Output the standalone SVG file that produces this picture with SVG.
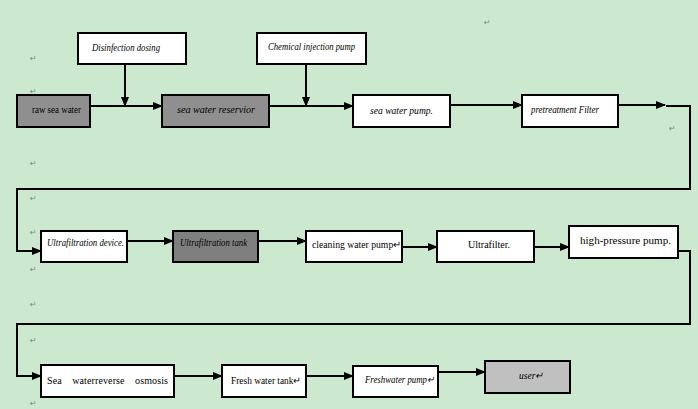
<svg xmlns="http://www.w3.org/2000/svg" width="698" height="409" viewBox="0 0 698 409">
<defs>
<marker id="ah" markerWidth="10" markerHeight="8" refX="9" refY="4" orient="auto" markerUnits="userSpaceOnUse">
<path d="M0,0 L10,4 L0,8 Z" fill="#000"/>
</marker>
<style>
.b{stroke:#000;stroke-width:2;fill:#fff}
.g{fill:#8f8f8f}
.d{fill:#7f7f7f}
.l{fill:#c0c0c0}
.t{font-family:"Liberation Serif",serif;font-size:10px;fill:#000}
.i{font-style:italic}
.c{stroke:#000;stroke-width:2;fill:none}
.m{font-family:"DejaVu Sans",sans-serif;font-size:8px;fill:#7a8a7a}
</style>
</defs>
<rect width="698" height="409" fill="#cce8cf"/>
<g id="marks">
<text class="m" x="484" y="25">↵</text>
<text class="m" x="30" y="61">↵</text>
<text class="m" x="30" y="94">↵</text>
<text class="m" x="669" y="131">↵</text>
<text class="m" x="30" y="166">↵</text>
<text class="m" x="30" y="201">↵</text>
<text class="m" x="30" y="235">↵</text>
<text class="m" x="30" y="272">↵</text>
<text class="m" x="30" y="307">↵</text>
<text class="m" x="30" y="343">↵</text>
<text class="m" x="30" y="406" font-size="7">↵</text>
</g>
<g id="connectors">
<line class="c" x1="125" y1="64" x2="125" y2="106" marker-end="url(#ah)"/>
<line class="c" x1="306" y1="64" x2="306" y2="106" marker-end="url(#ah)"/>
<line class="c" x1="90" y1="106" x2="162" y2="106" marker-end="url(#ah)"/>
<line class="c" x1="269" y1="106" x2="353" y2="106" marker-end="url(#ah)"/>
<line class="c" x1="450" y1="105" x2="522" y2="105" marker-end="url(#ah)"/>
<line class="c" x1="618" y1="105" x2="665" y2="105" marker-end="url(#ah)"/>
<polyline class="c" points="666,106 690,106 690,189 17,189 17,251 41,251" marker-end="url(#ah)"/>
<line class="c" x1="127" y1="241" x2="173" y2="241" marker-end="url(#ah)"/>
<line class="c" x1="258" y1="241" x2="306" y2="241" marker-end="url(#ah)"/>
<line class="c" x1="402" y1="247" x2="437" y2="247" marker-end="url(#ah)"/>
<line class="c" x1="534" y1="247" x2="569" y2="247" marker-end="url(#ah)"/>
<polyline class="c" points="678,251 690,251 690,324 17,324 17,376 41,376" marker-end="url(#ah)"/>
<line class="c" x1="174" y1="376" x2="222" y2="376" marker-end="url(#ah)"/>
<line class="c" x1="306" y1="376" x2="353" y2="376" marker-end="url(#ah)"/>
<line class="c" x1="438" y1="372" x2="485" y2="372" marker-end="url(#ah)"/>
</g>
<g id="disinfection">
<rect class="b" x="78" y="33" width="108" height="31"/>
<text class="t i" x="92" y="51" textLength="68" lengthAdjust="spacingAndGlyphs">Disinfection dosing</text>
</g>
<g id="chemical">
<rect class="b" x="257" y="33" width="109" height="31"/>
<text class="t i" x="268" y="50" textLength="87" lengthAdjust="spacingAndGlyphs">Chemical injection pump</text>
</g>
<g id="raw">
<rect class="b g" x="17" y="95" width="73" height="32"/>
<text class="t" x="32" y="113" textLength="49" lengthAdjust="spacingAndGlyphs">raw sea water</text>
</g>
<g id="reservoir">
<rect class="b g" x="162" y="95" width="107" height="32"/>
<text class="t i" x="177" y="113" textLength="78" lengthAdjust="spacingAndGlyphs">sea water reservior</text>
</g>
<g id="seapump">
<rect class="b" x="353" y="95" width="97" height="32"/>
<text class="t i" x="370" y="114" textLength="63" lengthAdjust="spacingAndGlyphs">sea water pump.</text>
</g>
<g id="pretreat">
<rect class="b" x="522" y="95" width="96" height="32"/>
<text class="t i" x="531" y="113" textLength="68" lengthAdjust="spacingAndGlyphs">pretreatment Filter</text>
</g>
<g id="ufdevice">
<rect class="b" x="41" y="231" width="86" height="31"/>
<text class="t i" x="47" y="246" textLength="77" lengthAdjust="spacingAndGlyphs">Ultrafiltration device.</text>
</g>
<g id="uftank">
<rect class="b d" x="173" y="231" width="85" height="31"/>
<text class="t i" x="180" y="246" textLength="67" lengthAdjust="spacingAndGlyphs">Ultrafiltration tank</text>
</g>
<g id="cleaning">
<rect class="b" x="306" y="231" width="96" height="31"/>
<text class="t" x="312" y="248" textLength="89" lengthAdjust="spacingAndGlyphs">cleaning water pump↵</text>
</g>
<g id="ultrafilter">
<rect class="b" x="437" y="231" width="97" height="31"/>
<text class="t" x="468" y="248" textLength="42" lengthAdjust="spacingAndGlyphs">Ultrafilter.</text>
</g>
<g id="hpp">
<rect class="b" x="569" y="226" width="109" height="32"/>
<text class="t" x="580" y="244" textLength="91" lengthAdjust="spacingAndGlyphs">high-pressure pump.</text>
</g>
<g id="ro">
<rect class="b" x="41" y="365" width="133" height="32"/>
<text class="t" x="47" y="384" style="white-space:pre" xml:space="preserve" textLength="121" lengthAdjust="spacing">Sea    waterreverse    osmosis</text>
</g>
<g id="freshtank">
<rect class="b" x="222" y="365" width="84" height="32"/>
<text class="t" x="231" y="384" textLength="70" lengthAdjust="spacingAndGlyphs">Fresh water tank↵</text>
</g>
<g id="freshpump">
<rect class="b" x="353" y="366" width="85" height="31"/>
<text class="t i" x="365" y="383" textLength="69" lengthAdjust="spacingAndGlyphs">Freshwater pump↵</text>
</g>
<g id="user">
<rect class="b l" x="485" y="361" width="85" height="32"/>
<text class="t i" x="519" y="379" textLength="24" lengthAdjust="spacingAndGlyphs">user↵</text>
</g>
</svg>
